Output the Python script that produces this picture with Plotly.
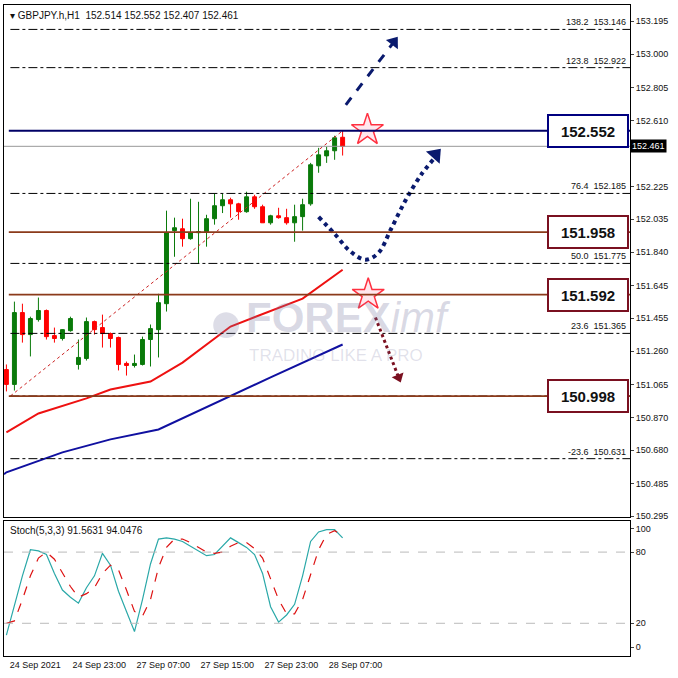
import plotly.graph_objects as go

# GBPJPY H1 candles (index 0..42)
opens = [151.153, 151.066, 151.487, 151.358, 151.446, 151.499, 151.352, 151.335, 151.381, 151.183,
         151.218, 151.434, 151.399, 151.364, 151.341, 151.189, 151.177, 151.183, 151.329, 151.387,
         151.539, 151.967, 151.978, 151.920, 151.955, 151.961, 152.037, 152.113, 152.148, 152.124,
         152.078, 152.165, 152.107, 152.013, 152.054, 152.043, 152.013, 152.049, 152.124, 152.347,
         152.405, 152.435, 152.514]
highs = [151.183, 151.551, 151.539, 151.463, 151.575, 151.505, 151.399, 151.390, 151.463, 151.329,
         151.458, 151.440, 151.475, 151.370, 151.346, 151.200, 151.241, 151.346, 151.417, 151.597,
         152.084, 152.043, 152.037, 152.154, 152.136, 152.060, 152.183, 152.183, 152.160, 152.130,
         152.195, 152.177, 152.119, 152.060, 152.101, 152.095, 152.119, 152.154, 152.364, 152.452,
         152.458, 152.523, 152.552]
lows = [151.025, 151.030, 151.311, 151.230, 151.434, 151.329, 151.311, 151.323, 151.375, 151.153,
        151.206, 151.358, 151.282, 151.282, 151.148, 151.118, 151.165, 151.177, 151.171, 151.224,
        151.493, 151.814, 151.873, 151.914, 151.773, 151.873, 152.002, 152.070, 152.043, 152.031,
        152.072, 152.095, 152.013, 152.002, 152.037, 152.002, 151.902, 151.967, 152.113, 152.306,
        152.364, 152.382, 152.407]
closes = [151.066, 151.487, 151.358, 151.452, 151.499, 151.346, 151.335, 151.387, 151.452, 151.224,
          151.434, 151.387, 151.364, 151.335, 151.183, 151.177, 151.189, 151.329, 151.393, 151.545,
          151.955, 151.984, 151.920, 151.955, 151.961, 152.037, 152.113, 152.148, 152.124, 152.078,
          152.165, 152.107, 152.013, 152.054, 152.043, 152.013, 152.049, 152.119, 152.353, 152.411,
          152.435, 152.511, 152.461]

ma_red_idx = [0, 4, 10, 13, 18, 22, 28, 37, 42]
ma_red = [150.785, 150.896, 150.984, 151.036, 151.083, 151.194, 151.405, 151.569, 151.738]
ma_blue_idx = [0, 7, 13, 19, 27, 33, 42]
ma_blue = [150.551, 150.668, 150.744, 150.802, 150.978, 151.107, 151.300]

stoch_main = [10, 35, 60, 82, 81, 78, 62, 48, 42, 37, 50, 60, 79, 69, 47, 30, 13, 40, 70, 91,
              92, 91, 89, 85, 81, 77, 78, 85, 92, 88, 84, 78, 62, 34, 21, 27, 36, 60, 89, 97,
              99, 99, 92]
stoch_signal = [20, 22, 40, 60, 75, 80, 74, 63, 51, 42, 45, 50, 62, 69, 65, 48, 30, 26, 40, 67,
                84, 91, 91, 88, 84, 80, 79, 80, 85, 88, 88, 83, 75, 58, 40, 28, 28, 40, 62, 82,
                95, 98, 94]

time_labels = ["24 Sep 2021", "24 Sep 23:00", "27 Sep 07:00", "27 Sep 15:00", "27 Sep 23:00", "28 Sep 07:00"]
time_label_idx = [0, 8, 16, 24, 32, 40]

fib_levels = [153.146, 152.922, 152.185, 151.775, 151.365, 150.631]
fib_names = ["138.2", "123.8", "76.4", "50.0", "23.6", "-23.6"]
sr_levels = [152.552, 151.958, 151.592, 150.998]
sr_colors = ["#000066", "#8B3A1A", "#8B3A1A", "#8B3A1A"]
box_colors = ["#000080", "#7A1020", "#7A1020", "#7A1020"]
bid = 152.461

price_ticks = [153.195, 153.000, 152.805, 152.610, 152.225, 152.035, 151.840, 151.645,
               151.455, 151.260, 151.065, 150.870, 150.680, 150.485, 150.295]

# hand-drawn arrows (x in bar index, y in price)
up_arrow_x = [42.4, 48.4]
up_arrow_y = [152.704, 153.072]
curve_x = [39.0, 41.1, 43.0, 44.9, 46.5, 48.0, 49.9, 51.8, 53.3]
curve_y = [152.048, 151.943, 151.844, 151.797, 151.838, 151.972, 152.148, 152.294, 152.382]
down_arrow_x = [46.1, 49.0]
down_arrow_y = [151.458, 151.107]
burst_x = [45.1, 45.2]
burst_y = [152.557, 151.592]

fig = go.Figure()
n = len(closes)
xs = list(range(n))

fig.add_trace(go.Candlestick(
    x=xs, open=opens, high=highs, low=lows, close=closes,
    increasing=dict(line=dict(color="#0a7a0a", width=1), fillcolor="#0a7a0a"),
    decreasing=dict(line=dict(color="#ff0000", width=1), fillcolor="#ff0000"),
    whiskerwidth=0, showlegend=False, xaxis="x", yaxis="y"))

fig.add_trace(go.Scatter(x=ma_red_idx, y=ma_red, mode="lines", line=dict(color="#ee1111", width=2),
                         showlegend=False))
fig.add_trace(go.Scatter(x=[-0.3] + ma_blue_idx, y=[150.540] + ma_blue, mode="lines",
                         line=dict(color="#1010a0", width=2), showlegend=False))
# fib diagonal
fig.add_trace(go.Scatter(x=[0.5, 42], y=[sr_levels[3], sr_levels[0]], mode="lines",
                         line=dict(color="#cc2222", width=1, dash="dot"), showlegend=False))

# arrows
fig.add_trace(go.Scatter(x=up_arrow_x, y=up_arrow_y, mode="lines", line=dict(color="#0a1a6e", width=3, dash="dash"),
                         showlegend=False))
fig.add_trace(go.Scatter(x=[up_arrow_x[-1]], y=[up_arrow_y[-1]], mode="markers",
                         marker=dict(symbol="triangle-up", size=13, angle=37, color="#0a1a6e"), showlegend=False))
fig.add_trace(go.Scatter(x=curve_x, y=curve_y, mode="lines", line=dict(color="#0a1a6e", width=4, dash="dot", shape="spline"),
                         showlegend=False))
fig.add_trace(go.Scatter(x=[curve_x[-1] + 0.3], y=[curve_y[-1] + 0.03], mode="markers",
                         marker=dict(symbol="triangle-up", size=16, angle=42, color="#0a1a6e"), showlegend=False))
fig.add_trace(go.Scatter(x=down_arrow_x, y=down_arrow_y, mode="lines", line=dict(color="#7A1020", width=3, dash="dot"),
                         showlegend=False))
fig.add_trace(go.Scatter(x=[down_arrow_x[-1]], y=[down_arrow_y[-1]], mode="markers",
                         marker=dict(symbol="triangle-down", size=11, angle=-22, color="#7A1020"), showlegend=False))
fig.add_trace(go.Scatter(x=burst_x, y=burst_y, mode="markers",
                         marker=dict(symbol="star", size=24, color="#ffe8ee", line=dict(color="#ff3040", width=1.5)),
                         showlegend=False))

# stochastic
fig.add_trace(go.Scatter(x=xs, y=stoch_main, mode="lines", line=dict(color="#2aa8a8", width=1.2),
                         showlegend=False, xaxis="x2", yaxis="y2"))
fig.add_trace(go.Scatter(x=xs, y=stoch_signal, mode="lines", line=dict(color="#dd1111", width=1.2, dash="dash"),
                         showlegend=False, xaxis="x2", yaxis="y2"))

shapes = []
for lv in fib_levels + [sr_levels[3]]:
    shapes.append(dict(type="line", xref="x", yref="y", x0=0.5, x1=77.9, y0=lv, y1=lv,
                       line=dict(color="black", width=1, dash="dashdot")))
for lv, c in zip(sr_levels, sr_colors):
    shapes.append(dict(type="line", xref="x", yref="y", x0=0.3, x1=77.9, y0=lv, y1=lv,
                       line=dict(color=c, width=2 if c == "#000066" else 1.8)))
shapes.append(dict(type="line", xref="x", yref="y", x0=-0.3, x1=77.9, y0=bid, y1=bid,
                   line=dict(color="#999999", width=1)))
for lv in [80, 20]:
    shapes.append(dict(type="line", xref="x2", yref="y2", x0=-0.3, x1=77.9, y0=lv, y1=lv,
                       line=dict(color="#bbbbbb", width=1, dash="dash")))

ann = []
for lv, nm in zip(fib_levels, fib_names):
    ann.append(dict(x=77.6, y=lv, xref="x", yref="y", text=f"{nm}  {lv:.3f}", showarrow=False,
                    xanchor="right", yanchor="bottom", font=dict(size=9, color="#111")))
for lv, c in zip(sr_levels, box_colors):
    ann.append(dict(x=72.6, y=lv, xref="x", yref="y", text=f"<b>{lv:.3f}</b>", showarrow=False,
                    font=dict(size=15, color="#111", family="Arial"), bgcolor="white", bordercolor=c,
                    borderwidth=2, width=76, height=28))
ann.append(dict(x=1.0, y=bid, xref="paper", yref="y", text=f"{bid:.3f}", showarrow=False, xanchor="left",
                font=dict(size=9, color="white"), bgcolor="black", borderpad=1))
ann.append(dict(x=0.006, y=0.995, xref="paper", yref="paper", text="▾ GBPJPY.h,H1  152.514 152.552 152.407 152.461",
                showarrow=False, xanchor="left", yanchor="top", font=dict(size=10, color="#111")))
ann.append(dict(x=0.006, y=0.205, xref="paper", yref="paper", text="Stoch(5,3,3) 91.5631 94.0476",
                showarrow=False, xanchor="left", yanchor="top", font=dict(size=10, color="#111")))
ann.append(dict(x=0.55, y=0.52, xref="paper", yref="paper",
                text="<b>FOREX</b><i>imf</i>", showarrow=False,
                font=dict(size=42, color="rgba(120,120,160,0.28)", family="Arial")))
ann.append(dict(x=0.53, y=0.462, xref="paper", yref="paper", text="TRADING LIKE A PRO", showarrow=False,
                font=dict(size=17, color="rgba(120,120,160,0.22)", family="Arial")))
ann.append(dict(x=0.355, y=0.515, xref="paper", yref="paper", text="●", showarrow=False,
                font=dict(size=60, color="rgba(120,120,160,0.25)")))

fig.update_layout(
    width=678, height=678, margin=dict(l=4, r=48, t=5, b=21),
    paper_bgcolor="white", plot_bgcolor="white", font=dict(family="Liberation Sans", size=9, color="#111"),
    shapes=shapes, annotations=ann, showlegend=False,
    xaxis=dict(domain=[0, 1], range=[-0.3, 77.9], showticklabels=False, showgrid=False, zeroline=False,
               showline=True, mirror=True, linecolor="black", rangeslider=dict(visible=False), anchor="y",
               automargin=False),
    yaxis=dict(domain=[0.2144, 1], range=[150.288, 153.289], side="right", tickvals=price_ticks,
               ticktext=[f"{t:.3f}" for t in price_ticks], ticks="outside", ticklen=3,
               showgrid=False, zeroline=False, showline=True, mirror=True, linecolor="black", anchor="x",
               automargin=False),
    xaxis2=dict(domain=[0, 1], range=[-0.3, 77.9], tickvals=[i + 3.6 for i in time_label_idx],
                ticktext=time_labels, showgrid=False, zeroline=False, showline=True, mirror=True,
                linecolor="black", anchor="y2", ticks="", automargin=False),
    yaxis2=dict(domain=[0.0015, 0.208], range=[-7.6, 105.9], side="right", tickvals=[0, 20, 80, 100],
                ticks="outside", ticklen=3, showgrid=False, zeroline=False, showline=True, mirror=True,
                linecolor="black", anchor="x2", automargin=False),
)

fig.write_html("out.html", config={"displayModeBar": False},
               post_script="document.body.style.margin='0';")
